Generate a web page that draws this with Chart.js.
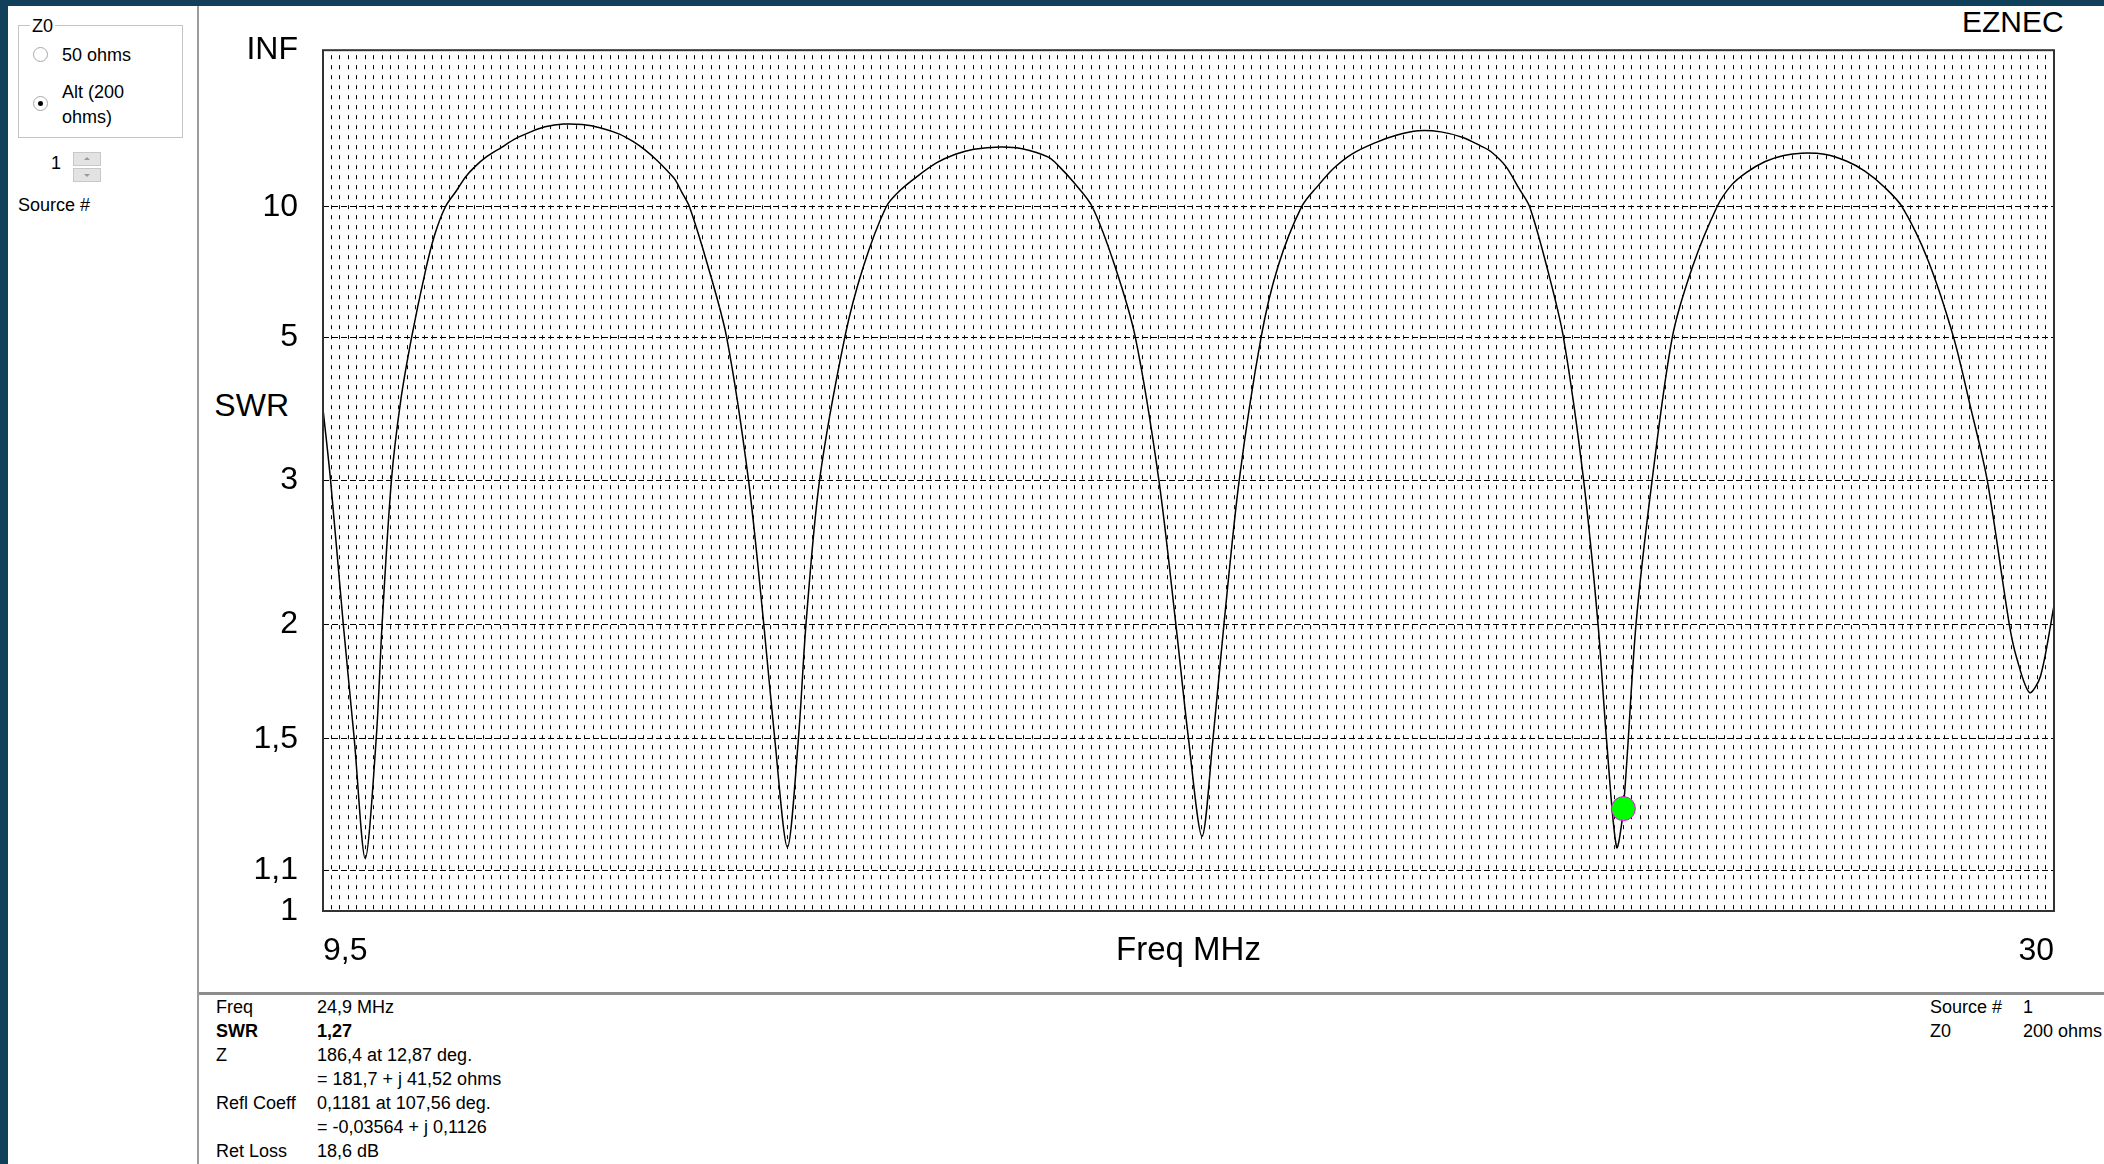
<!DOCTYPE html>
<html>
<head>
<meta charset="utf-8">
<title>EZNEC SWR</title>
<script src="https://cdn.jsdelivr.net/npm/chart.js@4.4.1/dist/chart.umd.min.js"></script>
<style>
  body {
    margin: 0;
    width: 2104px;
    height: 1164px;
    background: #fff;
    position: relative;
    overflow: hidden;
    font-family: "Liberation Sans", Arial, sans-serif;
    color: #000;
  }
  .abs { position: absolute; white-space: nowrap; }
  .small { font-size: 18px; line-height: 24px; }
  .frameTop { left: 0; top: 0; width: 2104px; height: 6px; background: #10405a; }
  .frameLeft { left: 0; top: 0; width: 8px; height: 1164px; background: #10405a; }
  .vsep { left: 197px; top: 6px; width: 2px; height: 1158px; background: #9c9c9c; }
  .hsep { left: 199px; top: 992px; width: 1905px; height: 3px; background: #8c8c8c; }
  .group { left: 18px; top: 25px; width: 163px; height: 111px; border: 1px solid #c4c4c4; }
  .radio { width: 13px; height: 13px; border: 1px solid #a8a8a8; border-radius: 50%; background: #fff; }
  .dot { left: 4px; top: 4px; width: 5px; height: 5px; border-radius: 50%; background: #000; }
  .spin { left: 73px; width: 28px; height: 14px; background: #e3e3e3; border: 1px solid #c8c8c8; box-sizing: border-box; }
  .up { left: 10px; top: 4px; width: 0; height: 0; border-left: 3px solid transparent; border-right: 3px solid transparent; border-bottom: 3px solid #9a9a9a; }
  .down { left: 10px; top: 5px; width: 0; height: 0; border-left: 3px solid transparent; border-right: 3px solid transparent; border-top: 3px solid #9a9a9a; }
  .bold { font-weight: bold; }
</style>
</head>
<body>
<div class="abs frameTop"></div>
<div class="abs frameLeft"></div>
<div class="abs vsep"></div>
<div class="abs hsep"></div>

<!-- left control panel -->
<div class="abs group"></div>
<div class="abs small" style="left:30px;top:14px;background:#fff;padding:0 2px;">Z0</div>
<div class="abs radio" style="left:33px;top:47px;"></div>
<div class="abs small" style="left:62px;top:43px;">50 ohms</div>
<div class="abs radio" style="left:33px;top:96px;"><div class="abs dot"></div></div>
<div class="abs small" style="left:62px;top:80px;">Alt (200</div>
<div class="abs small" style="left:62px;top:105px;">ohms)</div>
<div class="abs small" style="left:51px;top:151px;">1</div>
<div class="abs spin" style="top:152px;"><div class="abs up"></div></div>
<div class="abs spin" style="top:168px;"><div class="abs down"></div></div>
<div class="abs small" style="left:18px;top:193px;">Source #</div>

<!-- chart extras -->
<div class="abs" style="left:1962px;top:4px;font-size:30px;line-height:36px;">EZNEC</div>
<div class="abs" style="left:200px;width:89px;text-align:right;top:386px;font-size:32px;line-height:38px;">SWR</div>

<canvas id="swrChart" class="abs" width="1904" height="987" style="left:200px;top:6px;"></canvas>

<!-- bottom info panel -->
<div class="abs small" style="left:216px;top:995px;">Freq</div>
<div class="abs small" style="left:317px;top:995px;">24,9 MHz</div>
<div class="abs small bold" style="left:216px;top:1019px;">SWR</div>
<div class="abs small bold" style="left:317px;top:1019px;">1,27</div>
<div class="abs small" style="left:216px;top:1043px;">Z</div>
<div class="abs small" style="left:317px;top:1043px;">186,4 at 12,87 deg.</div>
<div class="abs small" style="left:317px;top:1067px;">= 181,7 + j 41,52 ohms</div>
<div class="abs small" style="left:216px;top:1091px;">Refl Coeff</div>
<div class="abs small" style="left:317px;top:1091px;">0,1181 at 107,56 deg.</div>
<div class="abs small" style="left:317px;top:1115px;">= -0,03564 + j 0,1126</div>
<div class="abs small" style="left:216px;top:1139px;">Ret Loss</div>
<div class="abs small" style="left:317px;top:1139px;">18,6 dB</div>
<div class="abs small" style="left:1930px;top:995px;">Source #</div>
<div class="abs small" style="left:2023px;top:995px;">1</div>
<div class="abs small" style="left:1930px;top:1019px;">Z0</div>
<div class="abs small" style="left:2023px;top:1019px;">200 ohms</div>

<script>
// sweep readings (MHz, SWR)
const freqMHz = [9.50, 9.59, 9.74, 9.87, 10.00, 10.13, 10.20, 10.31, 10.42, 10.55,
  10.71, 10.82, 10.95, 11.08, 11.19, 11.30, 11.43, 11.61, 11.78, 11.96,
  12.13, 12.35, 12.57, 12.79, 13.01, 13.18, 13.32, 13.45, 13.58, 13.67,
  13.75, 13.84, 14.06, 14.28, 14.54, 14.72, 14.85, 15.00, 15.13, 15.22,
  15.38, 15.68, 15.90, 16.17, 16.33, 16.55, 16.77, 16.99, 17.21, 17.52,
  17.78, 18.09, 18.22, 18.39, 18.61, 18.88, 19.12, 19.40, 19.60, 19.75,
  19.91, 20.04, 20.17, 20.35, 20.61, 20.81, 21.09, 21.29, 21.47, 21.68,
  21.95, 22.21, 22.47, 22.74, 23.00, 23.21, 23.33, 23.51, 23.66, 23.79,
  24.01, 24.19, 24.43, 24.60, 24.70, 24.82, 24.90, 25.05, 25.24, 25.48,
  25.72, 26.01, 26.18, 26.36, 26.58, 26.80, 27.01, 27.28, 27.54, 27.76,
  27.98, 28.20, 28.51, 28.81, 29.01, 29.21, 29.47, 29.56, 29.71, 29.84, 30.00];
const swr = [3.80, 3.00, 2.00, 1.50, 1.13, 1.50, 2.00, 3.00, 3.91, 5.00,
  6.76, 8.29, 10.0, 11.25, 12.61, 13.79, 15.10, 16.68, 18.47, 20.08,
  21.47, 22.31, 22.15, 21.15, 19.51, 17.76, 16.18, 14.69, 13.25, 12.31,
  11.11, 10.0, 6.96, 5.00, 3.00, 2.00, 1.50, 1.16, 1.50, 2.00,
  3.00, 5.00, 6.96, 10.0, 11.25, 12.73, 14.30, 15.54, 16.38, 16.78,
  16.48, 15.10, 13.79, 12.03, 10.0, 6.96, 5.00, 3.00, 2.00, 1.50,
  1.19, 1.50, 2.00, 3.00, 5.00, 6.96, 10.0, 11.76, 13.58, 15.54,
  17.53, 19.24, 20.37, 20.08, 18.72, 16.99, 15.99, 13.79, 11.50, 10.0,
  6.76, 5.00, 3.00, 2.00, 1.50, 1.16, 1.27, 2.00, 3.00, 5.00,
  6.96, 10.0, 11.76, 13.10, 14.47, 15.36, 15.72, 15.54, 14.54, 13.25,
  11.66, 10.0, 7.18, 5.00, 3.83, 3.00, 2.00, 1.83, 1.68, 1.75, 2.10];

const swrTicks = [1, 1.1, 1.5, 2, 3, 5, 10, Infinity];
const swrTickLabels = ["1", "1,1", "1,5", "2", "3", "5", "10", "INF"];
const freqTickLabels = ["9,5", "30"];
const freqMin = 9.5;
const freqMax = 30;
const gridStep = 0.1;

const markerFreq = 24.9;
const markerSwr = 1.27;

// EZNEC plots SWR on a scale that is linear in reflection coefficient
function toRefl(s) {
  return s === Infinity ? 1 : (s - 1) / (s + 1);
}

const fontFamily = "'Liberation Sans', Arial, sans-serif";

const plotFrame = {
  id: "plotFrame",
  afterDatasetsDraw(chart) {
    const { ctx, chartArea: a } = chart;
    ctx.save();
    ctx.strokeStyle = "#333";
    ctx.lineWidth = 2;
    ctx.strokeRect(a.left, a.top, a.right - a.left, a.bottom - a.top);
    ctx.restore();
  },
};

const config = {
  type: "line",
  data: {
    datasets: [
      {
        label: "marker",
        data: [{ x: markerFreq, y: toRefl(markerSwr) }],
        showLine: false,
        pointRadius: 12,
        pointBackgroundColor: "#00ff00",
        pointBorderColor: "#ff00ff",
        pointBorderWidth: 1,
        order: 0,
      },
      {
        label: "SWR",
        data: freqMHz.map((f, i) => ({ x: f, y: toRefl(swr[i]) })),
        borderColor: "#000",
        borderWidth: 1.5,
        pointRadius: 0,
        tension: 0.3,
        order: 1,
      },
    ],
  },
  options: {
    responsive: false,
    animation: false,
    events: [],
    layout: {
      padding: { top: 42, right: 50, bottom: 0, left: 0 },
    },
    scales: {
      x: {
        type: "linear",
        min: freqMin,
        max: freqMax,
        afterBuildTicks: (scale) => {
          const n = Math.round((freqMax - freqMin) / gridStep);
          const t = [];
          for (let i = 0; i <= n; i++) {
            t.push({ value: Math.round((freqMin + i * gridStep) * 10) / 10 });
          }
          scale.ticks = t;
        },
        afterFit: (scale) => {
          scale.height = 82;
        },
        grid: {
          color: "#000",
          lineWidth: 1,
          drawTicks: false,
        },
        border: {
          display: false,
          dash: [4, 6],
          dashOffset: 5,
        },
        ticks: {
          autoSkip: false,
          maxRotation: 0,
          align: "inner",
          padding: 21,
          color: "#000",
          font: { size: 32, family: fontFamily },
          callback: (value, index, ticks) => {
            if (index === 0) return freqTickLabels[0];
            if (index === ticks.length - 1) return freqTickLabels[1];
            return "";
          },
        },
        title: {
          display: true,
          text: "Freq MHz",
          color: "#000",
          font: { size: 33, family: fontFamily },
          padding: { top: 0, bottom: 22 },
        },
      },
      y: {
        type: "linear",
        min: 0,
        max: 1,
        afterBuildTicks: (scale) => {
          scale.ticks = swrTicks.map((s) => ({ value: toRefl(s) }));
        },
        afterFit: (scale) => {
          scale.width = 123;
        },
        grid: {
          color: "#000",
          lineWidth: 1,
          drawTicks: false,
        },
        border: {
          display: false,
          dash: [6, 3],
        },
        ticks: {
          padding: 25,
          color: "#000",
          font: { size: 32, family: fontFamily },
          callback: (value, index) => swrTickLabels[index],
        },
      },
    },
    plugins: {
      legend: { display: false },
      tooltip: { enabled: false },
    },
  },
  plugins: [plotFrame],
};

const swrChart = new Chart(document.getElementById("swrChart"), config);
</script>
</body>
</html>
